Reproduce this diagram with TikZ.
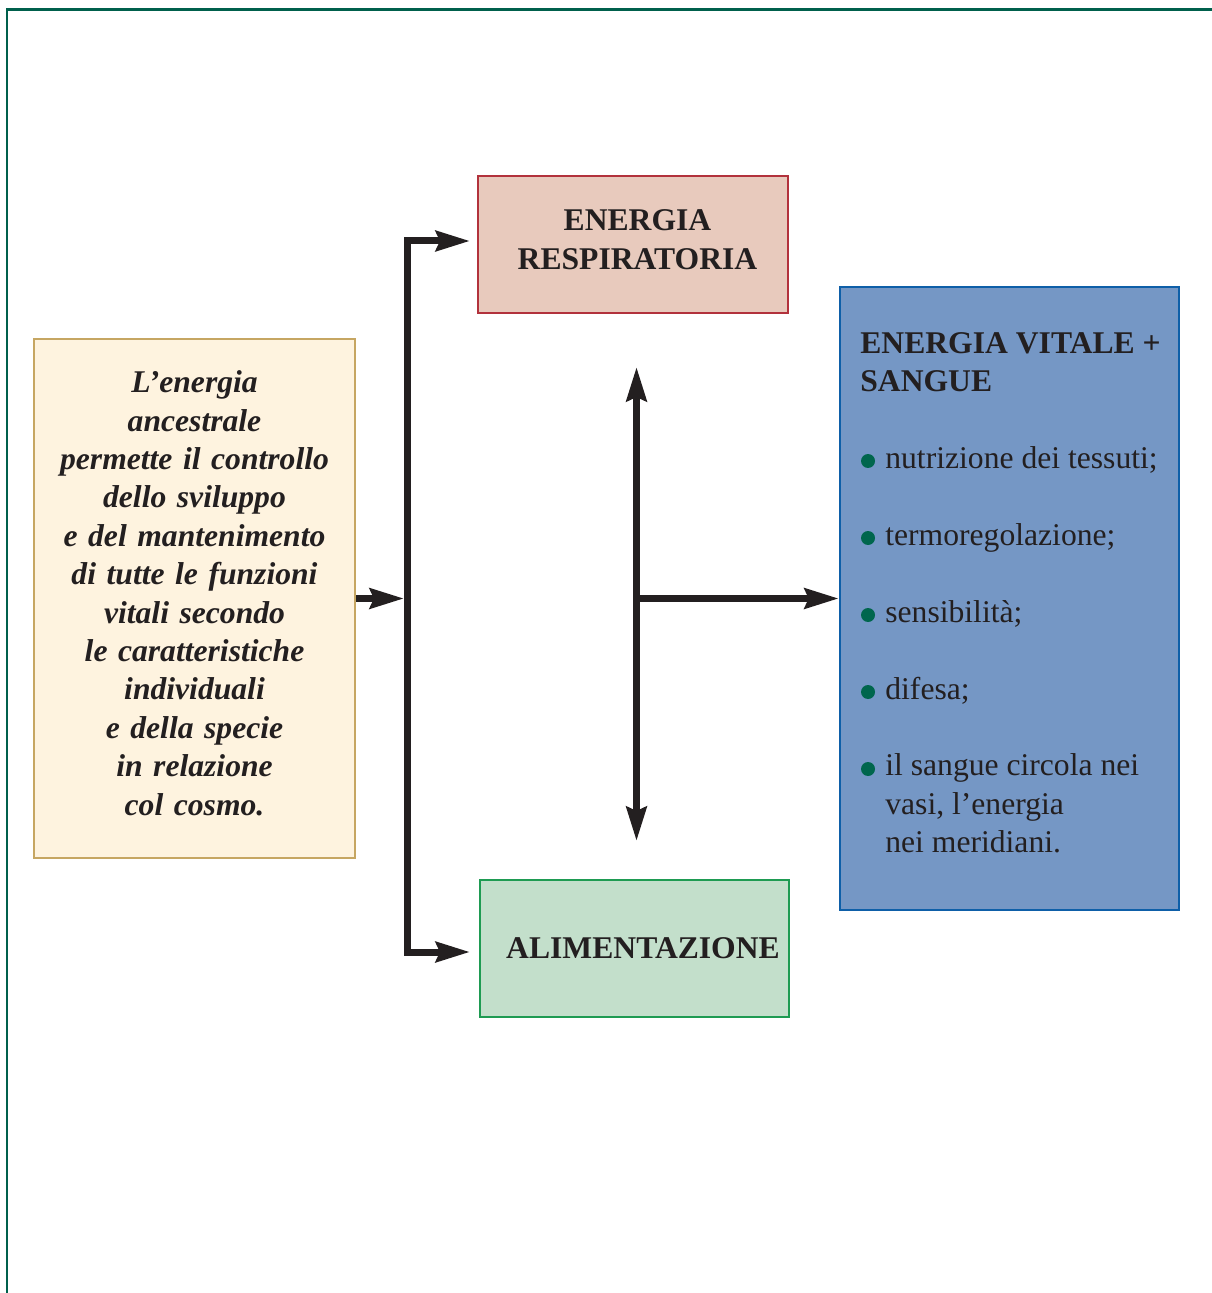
\documentclass[tikz,border=0pt]{standalone}
\usepackage{fontspec}
\setmainfont{Liberation Serif}
\usetikzlibrary{arrows.meta}

\definecolor{cornice}{RGB}{0,96,76}
\definecolor{inchiostro}{RGB}{35,31,32}
\definecolor{crema}{RGB}{254,243,223}
\definecolor{ocra}{RGB}{198,166,98}
\definecolor{rosa}{RGB}{232,202,189}
\definecolor{rosso}{RGB}{178,50,60}
\definecolor{menta}{RGB}{195,223,203}
\definecolor{verde}{RGB}{30,155,82}
\definecolor{celeste}{RGB}{117,151,197}
\definecolor{blu}{RGB}{14,95,168}
\definecolor{puntino}{RGB}{0,102,77}

% sostegno invisibile sotto l'ultima riga
\newcommand{\piede}[1]{\rule[-#1]{0pt}{#1}}

\tikzset{
  punta/.tip={Stealth[length=0.68cm, width=0.4cm, inset=0.08cm]},
  box/.style={draw, line width=0.05cm, inner sep=0pt, text=inchiostro,
    font=\fontsize{18}{21.85}\selectfont\bfseries},
  freccia/.style={draw=inchiostro, line width=0.14cm, -punta},
  doppia/.style={draw=inchiostro, line width=0.14cm, punta-punta},
  voce/.style={anchor=base west, inner sep=0pt, text=inchiostro,
    font=\fontsize{18}{21.85}\selectfont},
  pallino/.style={circle, fill=puntino, inner sep=0pt, minimum size=0.28cm},
}

\begin{document}
\begin{tikzpicture}[x=0.02cm, y=-0.02cm]
  \useasboundingbox (0,0) rectangle (1211,1293);

  % Cornice
  \draw[cornice, line width=0.06cm] (7,1310) -- (7,10) -- (1230,10);

  % Riquadri
  \node[box, fill=crema, draw=ocra, minimum width=6.42cm, minimum height=10.38cm,
        text width=6.2cm, align=center,
        font=\fontsize{18}{21.85}\selectfont\bfseries\itshape]
        (ancestrale) at (194.5,598.5)
        {L’energia\\ ancestrale\\ permette il controllo\\ dello sviluppo\\
         e del mantenimento\\ di tutte le funzioni\\ vitali secondo\\
         le caratteristiche\\ individuali\\ e della specie\\ in relazione\\ col cosmo.\piede{0.22cm}};
  \node[box, fill=rosa, draw=rosso, minimum width=6.2cm, minimum height=2.74cm,
        text width=6cm, align=center]
        (respiratoria) at (633,244.5)
        {\hspace*{0.18cm}ENERGIA\\ \hspace*{0.18cm}RESPIRATORIA\piede{0.2cm}};
  \node[box, fill=menta, draw=verde, minimum width=6.18cm, minimum height=2.74cm]
        (alimentazione) at (634.5,948.5) {\hspace{0.34cm}ALIMENTAZIONE};
  \node[box, fill=celeste, draw=blu, minimum width=6.78cm, minimum height=12.46cm]
        (vitale) at (1009.5,598.5) {};

  % Testo del riquadro blu
  \node[voce, font=\fontsize{18}{21.85}\selectfont\bfseries, align=left]
        (titolo) at (860,392) {ENERGIA VITALE +\\ SANGUE};
  \node[pallino] (p1) at (868,461) {};
  \node[voce] (voce1) at (885,468.5) {nutrizione dei tessuti;};
  \node[pallino] (p2) at (868,538) {};
  \node[voce] (voce2) at (885,545.5) {termoregolazione;};
  \node[pallino] (p3) at (868,615) {};
  \node[voce] (voce3) at (885,622.5) {sensibilità;};
  \node[pallino] (p4) at (868,692) {};
  \node[voce] (voce4) at (885,699.5) {difesa;};
  \node[pallino] (p5) at (868,769) {};
  \node[voce, align=left] (voce5) at (885,852.5)
        {il sangue circola nei\\ vasi, l’energia\\ nei meridiani.};

  % Punti di snodo delle frecce
  \coordinate (ingresso) at (404,598.5);
  \coordinate (angoloA) at (407.5,241);
  \coordinate (angoloB) at (407.5,952);
  \coordinate (puntaA) at (470,241);
  \coordinate (puntaB) at (470,952);
  \coordinate (centroN) at (636.5,367);
  \coordinate (centroS) at (636.5,841);
  \coordinate (snodo) at (636.5,598.5);

  % Frecce
  \draw[freccia] (ancestrale.east) -- (ingresso);
  \draw[doppia] (puntaA) -- (angoloA) -- (angoloB) -- (puntaB);
  \draw[doppia] (centroN) -- (centroS);
  \draw[freccia] (snodo) -- (vitale.west);
\end{tikzpicture}
\end{document}
